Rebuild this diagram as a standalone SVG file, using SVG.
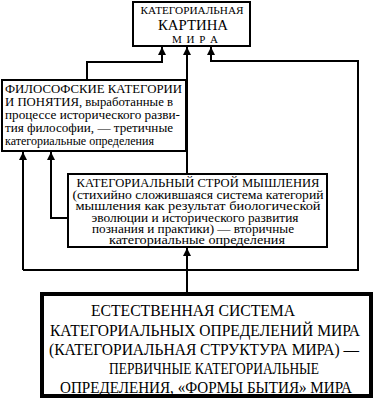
<svg xmlns="http://www.w3.org/2000/svg" width="375" height="399" viewBox="0 0 375 399">
<style>
.box{fill:#fff;stroke:#000;stroke-width:2}
.thick{fill:#fff;stroke:#000;stroke-width:4}
.ln{fill:none;stroke:#000;stroke-width:2}
.t{font-family:Liberation Serif, Times New Roman, serif;fill:#000}
.s{font-size:12px}
.m{font-size:11.5px;text-anchor:middle}
.b{font-size:16px;text-anchor:middle}
</style>
<defs>
<marker id="ah" viewBox="0 0 8 10" refX="8" refY="5" markerWidth="8" markerHeight="10" markerUnits="userSpaceOnUse" orient="auto">
<path d="M0,1 L8,5 L0,9 z" fill="#000"/>
</marker>
</defs>
<rect width="375" height="399" fill="#fff"/>
<g id="connectors">
<path class="ln" d="M87,80 V62 H162 V47" marker-end="url(#ah)"/>
<path class="ln" d="M187,174 V47" marker-end="url(#ah)"/>
<path class="ln" d="M23,270 H358 V61 H211 V47" marker-end="url(#ah)"/>
<path class="ln" d="M23,270 V152" marker-end="url(#ah)"/>
<path class="ln" d="M68,218 H51 V152" marker-end="url(#ah)"/>
<path class="ln" d="M187,294 V248" marker-end="url(#ah)"/>
</g>
<g id="top">
<rect class="box" x="133" y="2" width="117" height="44"/>
<text class="t" x="192" y="14" font-size="11" text-anchor="middle" textLength="103" lengthAdjust="spacingAndGlyphs">КАТЕГОРИАЛЬНАЯ</text>
<text class="t" x="193" y="29.5" font-size="15" text-anchor="middle" textLength="70" lengthAdjust="spacingAndGlyphs">КАРТИНА</text>
<text class="t" x="195" y="43" font-size="11" text-anchor="middle" textLength="46" lengthAdjust="spacing">М И Р А</text>
</g>
<g id="philosophy">
<rect class="box" x="2" y="80" width="184" height="71"/>
<text class="t s" x="5" y="93" textLength="177" lengthAdjust="spacingAndGlyphs">ФИЛОСОФСКИЕ КАТЕГОРИИ</text>
<text class="t s" x="5" y="106" textLength="168" lengthAdjust="spacingAndGlyphs">И ПОНЯТИЯ, выработанные в</text>
<text class="t s" x="5" y="119" textLength="175" lengthAdjust="spacingAndGlyphs">процессе исторического разви-</text>
<text class="t s" x="5" y="132" textLength="168" lengthAdjust="spacingAndGlyphs">тия философии, — третичные</text>
<text class="t s" x="5" y="145" textLength="149" lengthAdjust="spacingAndGlyphs">категориальные определения</text>
</g>
<g id="thinking">
<rect class="box" x="68" y="174" width="259" height="73"/>
<text class="t m" x="198" y="187" textLength="243" lengthAdjust="spacingAndGlyphs">КАТЕГОРИАЛЬНЫЙ СТРОЙ МЫШЛЕНИЯ</text>
<text class="t m" x="198" y="198.5" textLength="251" lengthAdjust="spacingAndGlyphs">(стихийно сложившаяся система категорий</text>
<text class="t m" x="198" y="210" textLength="245" lengthAdjust="spacingAndGlyphs">мышления  как результат биологической</text>
<text class="t m" x="195" y="221.5" textLength="207" lengthAdjust="spacingAndGlyphs">эволюции и исторического развития</text>
<text class="t m" x="193" y="233" textLength="202" lengthAdjust="spacingAndGlyphs">познания и практики) — вторичные</text>
<text class="t m" x="197" y="244" textLength="176" lengthAdjust="spacingAndGlyphs">категориальные определения</text>
</g>
<g id="natural">
<rect class="thick" x="42" y="294" width="329" height="102"/>
<text class="t b" x="193" y="316" textLength="204" lengthAdjust="spacingAndGlyphs">ЕСТЕСТВЕННАЯ СИСТЕМА</text>
<text class="t b" x="205" y="336" textLength="310" lengthAdjust="spacingAndGlyphs">КАТЕГОРИАЛЬНЫХ ОПРЕДЕЛЕНИЙ МИРА</text>
<text class="t b" x="204" y="355" textLength="310" lengthAdjust="spacingAndGlyphs">(КАТЕГОРИАЛЬНАЯ СТРУКТУРА МИРА) —</text>
<text class="t b" x="214" y="374" textLength="210" lengthAdjust="spacingAndGlyphs">ПЕРВИЧНЫЕ КАТЕГОРИАЛЬНЫЕ</text>
<text class="t b" x="206" y="393" textLength="292" lengthAdjust="spacingAndGlyphs">ОПРЕДЕЛЕНИЯ, «ФОРМЫ БЫТИЯ» МИРА</text>
</g>
</svg>
